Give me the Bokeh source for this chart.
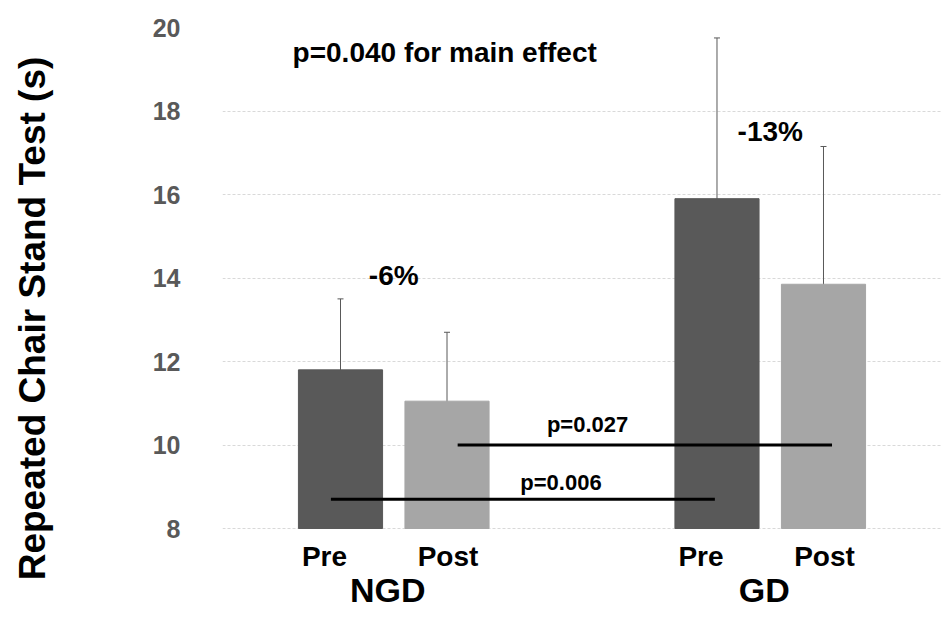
from bokeh.plotting import figure
from bokeh.models import (FactorRange, Range1d, ColumnDataSource, Whisker, TeeHead,
                          FixedTicker)
from bokeh.core.properties import value
from bokeh.embed import file_html
from bokeh.resources import INLINE

# ---------------- data ----------------
groups = ["NGD", "GD"]
phases = ["Pre", "Post"]
means = [11.8, 11.05, 15.9, 13.85]
sds = [1.7, 1.65, 3.85, 3.3]
bar_colors = ["#595959", "#a6a6a6", "#595959", "#a6a6a6"]

pct_labels = ["-6%", "-13%"]
pct_y = [14.05, 17.5]

cmp_labels = ["p=0.027", "p=0.006"]
cmp_from = [("NGD", "Post"), ("NGD", "Pre")]
cmp_to = [("GD", "Post"), ("GD", "Pre")]
cmp_y = [10.0, 8.7]
cmp_text_y = [10.49, 9.09]

main_effect_text = "p=0.040 for main effect"
main_effect_y = 19.4

y_min, y_max, y_step = 8, 20, 2
y_ticks = list(range(y_min, y_max + 1, y_step))
y_title = "Repeated Chair Stand Test (s)"

# ---------------- layout constants ----------------
FONT = value("Liberation Sans")
LABEL_BAND = 1.94   # extra value-space below y_min that holds the category labels
factors = [(g, ph) for g in groups for ph in phases]

p = figure(x_range=FactorRange(*factors, group_padding=1.535, factor_padding=0.0,
                               range_padding=0.608, range_padding_units="absolute"),
           y_range=Range1d(y_min - LABEL_BAND, y_max),
           width=941, height=609, output_backend="svg", toolbar_location=None,
           min_border_left=222, min_border_right=0, min_border_top=27, min_border_bottom=0)
p.outline_line_color = None
p.background_fill_color = "white"

bars = ColumnDataSource(dict(
    x=factors, top=means, color=bar_colors,
    upper=[m + s for m, s in zip(means, sds)],
    lower=[m - s for m, s in zip(means, sds)],
))
p.vbar(x="x", top="top", bottom=y_min, width=0.79, color="color", source=bars)

wh = Whisker(base="x", upper="upper", lower="lower", source=bars,
             line_color="#595959", line_width=1,
             upper_head=TeeHead(size=6, line_color="#595959", line_width=1),
             lower_head=TeeHead(size=6, line_color="#595959", line_width=1))
p.add_layout(wh)

# comparison lines (small horizontal offsets from the bar centres)
from_off = [0.1, -0.09]
to_off = [0.08, -0.02]
text_off = [1.32, 1.07]
seg = ColumnDataSource(dict(
    x0=[tuple(f) + (o,) for f, o in zip(cmp_from, from_off)],
    x1=[tuple(t) + (o,) for t, o in zip(cmp_to, to_off)],
    y=cmp_y,
    tx=[("NGD", "Post", o) for o in text_off],
    ty=cmp_text_y, label=cmp_labels,
))
p.segment(x0="x0", y0="y", x1="x1", y1="y", line_color="black", line_width=3, source=seg)
p.text(x="tx", y="ty", text="label", source=seg, text_align="center",
       text_baseline="middle", text_font=FONT, text_font_style="bold",
       text_font_size="22px", text_color="black")

pct = ColumnDataSource(dict(x=[(g, "Post", -0.5) for g in groups], y=pct_y, label=pct_labels))
p.text(x="x", y="y", text="label", source=pct, text_align="center", text_baseline="middle",
       text_font=FONT, text_font_style="bold", text_font_size="28px", text_color="black")

me = ColumnDataSource(dict(x=[("NGD", "Pre", -0.45)], y=[main_effect_y], label=[main_effect_text]))
p.text(x="x", y="y", text="label", source=me, text_align="left", text_baseline="middle",
       text_font=FONT, text_font_style="bold", text_font_size="28px", text_color="black")

# two-level category labels, drawn under the value axis baseline
phase_px_off = {"Pre": -16, "Post": 1}
cat_src = ColumnDataSource(dict(
    x=factors, y=[y_min] * len(factors), label=[f[1] for f in factors],
    dx=[phase_px_off[f[1]] for f in factors],
))
p.text(x="x", y="y", text="label", source=cat_src, x_offset="dx", y_offset=28,
       text_align="center", text_baseline="middle", text_font=FONT,
       text_font_style="bold", text_font_size="28px", text_color="black")
grp_src = ColumnDataSource(dict(
    x=[(g, "Post", -0.5) for g in groups], y=[y_min] * len(groups), label=groups,
))
p.text(x="x", y="y", text="label", source=grp_src, x_offset=-6, y_offset=61,
       text_align="center", text_baseline="middle", text_font=FONT,
       text_font_style="bold", text_font_size="34px", text_color="black")

# y axis
p.yaxis.ticker = FixedTicker(ticks=y_ticks)
p.yaxis.axis_line_color = None
p.yaxis.major_tick_line_color = None
p.yaxis.major_tick_out = 0
p.yaxis.major_tick_in = 0
p.yaxis.minor_tick_line_color = None
p.yaxis.major_label_text_font = "Liberation Sans"
p.yaxis.major_label_text_font_style = "bold"
p.yaxis.major_label_text_font_size = "25px"
p.yaxis.major_label_text_color = "#595959"
p.yaxis.major_label_standoff = 42
p.yaxis.axis_label = y_title
p.yaxis.axis_label_text_font = "Liberation Sans"
p.yaxis.axis_label_text_font_style = "bold"
p.yaxis.axis_label_text_font_size = "37px"
p.yaxis.axis_label_text_color = "black"
p.yaxis.axis_label_standoff = 97

p.xaxis.visible = False
p.xgrid.grid_line_color = None
p.ygrid.grid_line_color = "#d9d9d9"
p.ygrid.grid_line_dash = "3 2"
p.ygrid.grid_line_width = 1

open("out.html", "w").write(file_html(p, INLINE))
